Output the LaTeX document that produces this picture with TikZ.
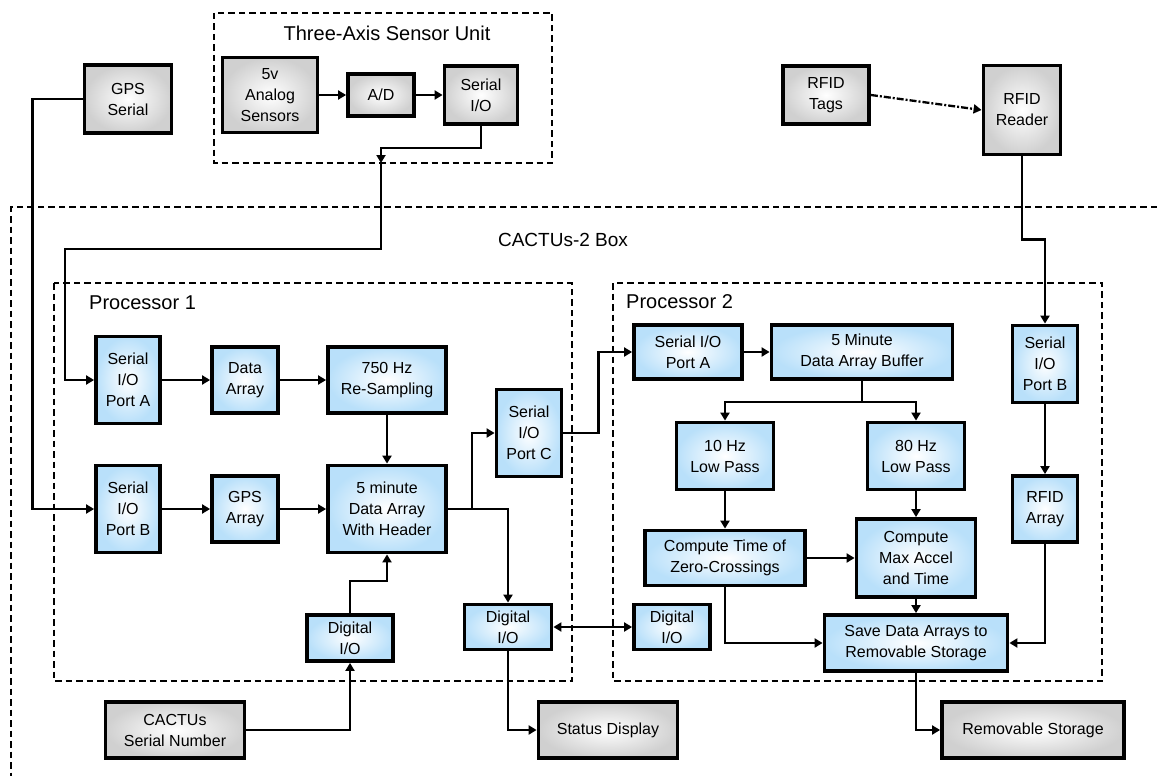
\documentclass[tikz,border=0pt]{standalone}
\usepackage{fontspec}
\setmainfont{Liberation Sans}
\usetikzlibrary{arrows.meta}
\definecolor{boxblue}{RGB}{185,224,250}
\definecolor{boxgray}{RGB}{208,208,208}

\begin{document}
\begin{tikzpicture}[x=1pt, y=-1pt,
    >={Triangle[length=8pt,width=9pt]},
    every node/.style={font=\fontsize{16}{21}\selectfont, align=center},
    blk/.style={draw, line width=3.8pt, inner sep=2pt},
    blubox/.style={blk, inner color=white, outer color=boxblue},
    grybox/.style={blk, inner color=white, outer color=boxgray},
    conn/.style={line width=2.3pt},
    grp/.style={line width=2.2pt, dash pattern=on 6.5pt off 4pt},
    ttl/.style={font=\fontsize{20}{24}\selectfont, inner sep=0pt}]
    \useasboundingbox (0,0) rectangle (1157,776);

    \draw[grp] (214,13) rectangle (552,163);
    \node(tsu)[ttl] at (387,33) {Three-Axis Sensor Unit};
    \node(an)[grybox, minimum width=95, minimum height=75] at (270,95) {5v\\Analog\\Sensors};
    \node(ad)[grybox, minimum width=66, minimum height=42] at (381,95) {A/D};
    \node(ser)[grybox, minimum width=73, minimum height=58] at (481,95) {Serial\\I/O};
    \node(gps)[grybox, minimum width=87, minimum height=68] at (128,99) {GPS\\Serial};
    \node(tags)[grybox, minimum width=86, minimum height=58] at (826,95) {RFID\\Tags};
    \node(rdr)[grybox, minimum width=77, minimum height=89] at (1022,110) {RFID\\Reader};

    \draw[grp] (1157,207) -- (11,207) -- (11,776);
    \node(cbx)[ttl, font=\fontsize{19}{23}\selectfont] at (563,240) {CACTUs-2 Box};
    \draw[grp] (54,283) rectangle (572,681);
    \node(p1)[ttl, anchor=west] at (89,303) {Processor 1};
    \draw[grp] (613,283) rectangle (1102,681);
    \node(p2)[ttl, anchor=west] at (626,302) {Processor 2};

    \node(pa1)[blubox, minimum width=64, minimum height=87] at (128,380) {Serial\\I/O\\Port A};
    \node(da)[blubox, minimum width=66, minimum height=66] at (245,380) {Data\\Array};
    \node(rs)[blubox, minimum width=118, minimum height=66] at (387,380) {750 Hz\\Re-Sampling};
    \node(pb1)[blubox, minimum width=64, minimum height=87] at (128,509) {Serial\\I/O\\Port B};
    \node(ga)[blubox, minimum width=66, minimum height=66] at (245,509) {GPS\\Array};
    \node(hdr)[blubox, minimum width=118, minimum height=87] at (387,509) {5 minute\\Data Array\\With Header};
    \node(pc1)[blubox, minimum width=65, minimum height=87] at (529,433) {Serial\\I/O\\Port C};
    \node(dl)[blubox, minimum width=86, minimum height=46] at (350,638) {Digital\\I/O};
    \node(dr)[blubox, minimum width=87, minimum height=45] at (508,627) {Digital\\I/O};

    \node(csn)[grybox, minimum width=139, minimum height=56] at (175,730) {CACTUs\\Serial Number};
    \node(sd)[grybox, minimum width=139, minimum height=56] at (608,730) {Status Display};
    \node(rst)[grybox, minimum width=182, minimum height=56] at (1033,730) {Removable Storage};

    \node(pa2)[blubox, minimum width=108, minimum height=54] at (688,352) {Serial I/O\\Port A};
    \node(buf)[blubox, minimum width=181, minimum height=54] at (862,352) {5 Minute\\Data Array Buffer};
    \node(lp10)[blubox, minimum width=97, minimum height=67] at (725,456) {10 Hz\\Low Pass};
    \node(lp80)[blubox, minimum width=97, minimum height=67] at (916,456) {80 Hz\\Low Pass};
    \node(zc)[blubox, minimum width=160, minimum height=55] at (725,558) {Compute Time of\\Zero-Crossings};
    \node(mx)[blubox, minimum width=119, minimum height=78] at (916,558) {Compute\\Max Accel\\and Time};
    \node(sav)[blubox, minimum width=183, minimum height=56] at (916,643) {Save Data Arrays to\\Removable Storage};
    \node(d2)[blubox, minimum width=76, minimum height=45] at (672,627) {Digital\\I/O};
    \node(pb2)[blubox, minimum width=65, minimum height=77] at (1045,364) {Serial\\I/O\\Port B};
    \node(rfa)[blubox, minimum width=65, minimum height=66] at (1045,509) {RFID\\Array};

    \coordinate(tin) at (381,163);
    \draw[conn,->] (an) -- (ad);
    \draw[conn,->] (ad) -- (ser);
    \draw[conn,->] (ser.south) -- ++(0,22) -| (tin);
    \draw[conn,->] (tin) |- (65,249) |- (pa1.west);
    \draw[conn,->] (gps.west) -- ++(-50,0) |- (pb1.west);
    \draw[conn,->] (pa1) -- (da);
    \draw[conn,->] (da) -- (rs);
    \draw[conn,->] (rs) -- (hdr);
    \draw[conn,->] (pb1) -- (ga);
    \draw[conn,->] (ga) -- (hdr);
    \draw[conn,->] (hdr.east) -- ++(24,0) |- (pc1.west);
    \draw[conn,->] (hdr.east) -| (dr.north);
    \draw[conn,->] (dl.north) -- ++(0,-32) -| (hdr.south);
    \draw[conn,->] (csn.east) -| (dl.south);
    \draw[conn,->] (dr.south) |- (sd.west);
    \draw[conn,<->] (dr) -- (d2);
    \draw[conn,->] (pc1.east) -- ++(35,0) |- (pa2.west);
    \draw[conn,->] (pa2) -- (buf);
    \draw[conn,->] (buf.south) -- ++(0,21) -| (lp10.north);
    \draw[conn,->] (buf.south) -- ++(0,21) -| (lp80.north);
    \draw[conn,->] (lp10) -- (zc);
    \draw[conn,->] (lp80) -- (mx);
    \draw[conn,->] (zc) -- (mx);
    \draw[conn,->] (mx) -- (sav);
    \draw[conn,->] (zc.south) |- (sav.west);
    \draw[conn,->] (rfa.south) |- (sav.east);
    \draw[conn,->] (pb2) -- (rfa);
    \draw[conn,->] (rdr.south) -- ++(0,83) -| (pb2.north);
    \draw[conn,->,dash pattern=on 7pt off 2pt on 2pt off 2pt] (tags.east) -- (rdr.west);
    \draw[conn,->] (sav.south) |- (rst.west);
\end{tikzpicture}
\end{document}
